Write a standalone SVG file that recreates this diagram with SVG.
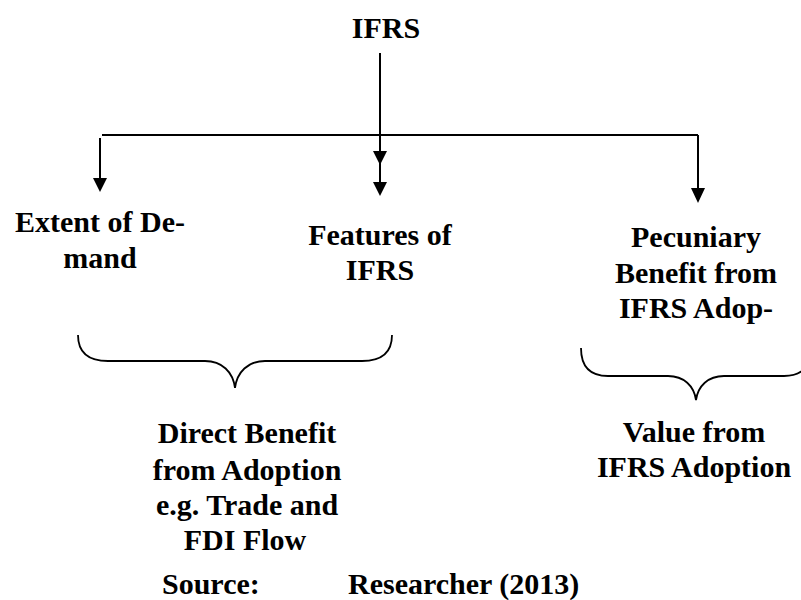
<svg xmlns="http://www.w3.org/2000/svg" width="801" height="600" viewBox="0 0 801 600">
<style>
text{font-family:"Liberation Serif","Times New Roman",serif;font-weight:bold;font-size:30px;fill:#000;text-anchor:middle}
.ln{stroke:#000;stroke-width:2;fill:none}
.br{stroke:#000;stroke-width:1.8;fill:none}
.ah{fill:#000}
</style>
<defs>
<clipPath id="clipL"><rect x="0" y="400" width="420" height="152"/></clipPath>
</defs>
<g id="connectors">
<line class="ln" x1="380" y1="53" x2="380" y2="190"/>
<path class="ah" d="M373,151 L387,151 L380,165 Z"/>
<path class="ah" d="M373,182 L387,182 L380,196 Z"/>
<line class="ln" x1="102" y1="135" x2="698" y2="135"/>
<line class="ln" x1="100" y1="138" x2="100" y2="180"/>
<path class="ah" d="M93,178 L107,178 L100,192 Z"/>
<line class="ln" x1="698" y1="135" x2="698" y2="190"/>
<path class="ah" d="M691,188 L705,188 L698,203 Z"/>
</g>
<g id="ifrs"><text x="386" y="38">IFRS</text></g>
<g id="extent"><text x="100" y="232">Extent of De-</text><text x="100" y="268">mand</text></g>
<g id="features"><text x="380" y="245">Features of</text><text x="380" y="280">IFRS</text></g>
<g id="pecuniary"><text x="696" y="247">Pecuniary</text><text x="696" y="283">Benefit from</text><text x="696" y="318">IFRS Adop-</text></g>
<g id="brace-left"><path class="br" d="M78,335 C78,352 88,361 108,361 L205,361 C222,361 233,372 235,388 C237,372 248,361 265,361 L362,361 C382,361 392,352 392,335"/></g>
<g id="brace-right"><path class="br" d="M581,348 C581,366 590,376 608,376 L668,376 C684,376 694,386 696,400 C698,386 708,376 724,376 L784,376 C802,376 811,366 811,348"/></g>
<g id="direct" clip-path="url(#clipL)"><text x="247" y="443">Direct Benefit</text><text x="247" y="480">from Adoption</text><text x="247" y="515">e.g. Trade and</text><text x="245" y="550">FDI Flow</text></g>
<g id="value"><text x="694" y="442">Value from</text><text x="694" y="477">IFRS Adoption</text></g>
<g id="source"><text x="162" y="594" style="text-anchor:start">Source:</text><text x="348" y="594" style="text-anchor:start">Researcher (2013)</text></g>
</svg>
